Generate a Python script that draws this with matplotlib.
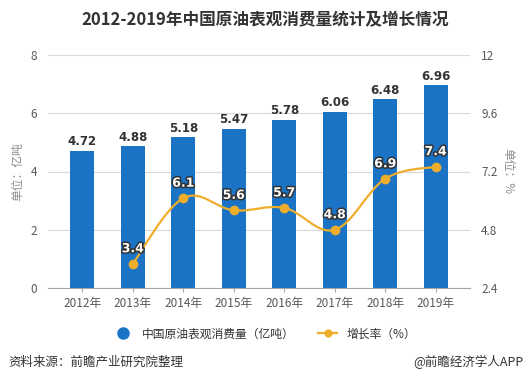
import matplotlib
matplotlib.use("Agg")
from matplotlib import pyplot as plt
from matplotlib.path import Path
from matplotlib.patches import PathPatch
import matplotlib.patheffects as pe
from matplotlib.lines import Line2D
import numpy as np

plt.rcParams['font.family'] = ['Noto Sans CJK SC', 'DejaVu Sans']

# data
years = ["2012年", "2013年", "2014年", "2015年", "2016年", "2017年", "2018年", "2019年"]
consumption = [4.72, 4.88, 5.18, 5.47, 5.78, 6.06, 6.48, 6.96]
growth_years = [1, 2, 3, 4, 5, 6, 7]
growth = [3.4, 6.1, 5.6, 5.7, 4.8, 6.9, 7.4]

bar_color = "#1a73c4"
line_color = "#eeae2c"
grid_color = "#d9d9d9"
text_color = "#595959"

fig = plt.figure(figsize=(5.3, 3.88), dpi=100)
ax = fig.add_axes([48 / 530, 1 - 288 / 388, (470 - 48) / 530, (288 - 55) / 388])
ax2 = ax.twinx()

x = np.arange(len(years))
ax.bar(x, consumption, width=0.47, color=bar_color, zorder=2)
for xi, v in zip(x, consumption):
    ax.text(xi, v + 0.08, "%.2f" % v, ha="center", va="bottom", fontsize=8.5,
            fontweight="bold", color="#333333", family=["DejaVu Sans"])

ax.set_xlim(-0.68, 7.68)
ax.set_ylim(0, 8)
ax.set_yticks([0, 2, 4, 6, 8])
ax.set_xticks(x)
ax.set_xticklabels(years)
ax.grid(axis="y", color=grid_color, linewidth=0.8, zorder=0)
ax.set_axisbelow(True)
for s in ["top", "right", "left"]:
    ax.spines[s].set_visible(False)
ax.spines["bottom"].set_color("#a6a6a6")
ax.tick_params(axis="y", length=0, labelsize=8.5, labelcolor=text_color, pad=8)
ax.tick_params(axis="x", length=3, color="#a6a6a6", labelsize=8.5, labelcolor=text_color)
ax.set_ylabel("单位：亿吨", fontsize=8.5, color="#8c8c8c", labelpad=4)

# smooth growth curve (cardinal spline as bezier path)
gx = np.array(growth_years, dtype=float)
gy = np.array(growth, dtype=float)
verts = [(gx[0], gy[0])]
codes = [Path.MOVETO]
t = 0.18
for i in range(len(gx) - 1):
    p0 = i - 1 if i > 0 else i
    p3 = i + 2 if i + 2 < len(gx) else i + 1
    c1 = (gx[i] + t * (gx[i + 1] - gx[p0]), gy[i] + t * (gy[i + 1] - gy[p0]))
    c2 = (gx[i + 1] - t * (gx[p3] - gx[i]), gy[i + 1] - t * (gy[p3] - gy[i]))
    verts += [c1, c2, (gx[i + 1], gy[i + 1])]
    codes += [Path.CURVE4] * 3
ax2.add_patch(PathPatch(Path(verts, codes), facecolor="none", edgecolor=line_color,
                        linewidth=1.6, zorder=3))
ax2.plot(gx, gy, "o", color=line_color, markersize=6, zorder=4)
for xi, v in zip(gx, gy):
    ax2.text(xi, v + 0.35, "%.1f" % v, ha="center", va="bottom", fontsize=9,
             fontweight="bold", color="white", family=["DejaVu Sans"],
             path_effects=[pe.withStroke(linewidth=2.2, foreground="#333333")], zorder=5)

ax2.set_ylim(2.4, 12)
ax2.set_yticks([2.4, 4.8, 7.2, 9.6, 12])
ax2.set_yticklabels(["2.4", "4.8", "7.2", "9.6", "12"])
for s in ["top", "right", "left", "bottom"]:
    ax2.spines[s].set_visible(False)
ax2.tick_params(axis="y", length=0, labelsize=8.5, labelcolor=text_color, pad=8)
ax2.set_ylabel("单位：%", fontsize=8.5, color="#8c8c8c", rotation=270, labelpad=12)

fig.text(0.5, 1 - 20 / 388, "2012-2019年中国原油表观消费量统计及增长情况", ha="center",
         va="center", fontsize=12, fontweight="bold", color="#333333")

handles = [
    Line2D([], [], marker="o", linestyle="none", color=bar_color, markersize=8),
    Line2D([], [], marker="o", linestyle="-", color=line_color, markersize=5, linewidth=1.6),
]
fig.legend(handles, ["中国原油表观消费量（亿吨）", "增长率（%）"], loc="center",
           bbox_to_anchor=(0.5, 1 - 334 / 388), ncol=2, frameon=False, fontsize=8.5,
           handlelength=1.6, columnspacing=2.0, labelcolor="#333333")

fig.text(8 / 530, 1 - 362 / 388, "资料来源：前瞻产业研究院整理", ha="left", va="center",
         fontsize=9, color="#333333")
fig.text(524 / 530, 1 - 362 / 388, "@前瞻经济学人APP", ha="right", va="center",
         fontsize=9, color="#333333")

fig.savefig("out.png", dpi=100)
